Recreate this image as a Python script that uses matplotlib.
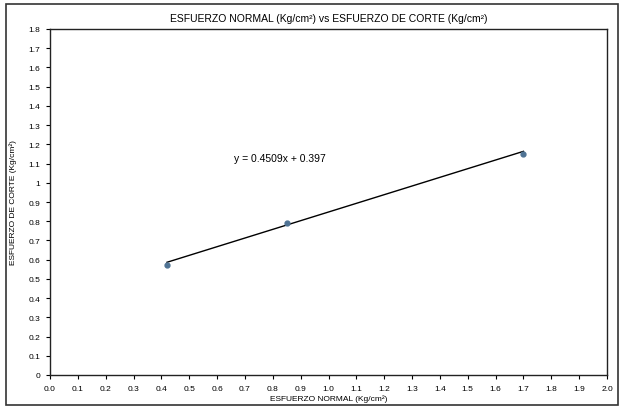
import numpy as np
import matplotlib
matplotlib.use("Agg")
import matplotlib.pyplot as plt
from matplotlib.patches import Rectangle

# -----------------------------
# Data
# -----------------------------
esfuerzo_normal = [0.42, 0.85, 1.70]
esfuerzo_corte = [0.57, 0.79, 1.15]
pendiente = 0.4509
intercepto = 0.397

x_ticks = np.round(np.arange(0.0, 2.01, 0.1), 1)
y_ticks = np.round(np.arange(0.0, 1.81, 0.1), 1)

plt.rcParams["font.family"] = ["Liberation Sans Narrow", "Liberation Sans", "DejaVu Sans"]

fig = plt.figure(figsize=(6.22, 4.10), dpi=100)
ax = fig.add_axes([50 / 622, 1 - 376 / 410, 557 / 622, 346 / 410])

# outer chart frame
fig.patches.append(Rectangle((6 / 622, 4 / 410), 612 / 622, 401 / 410,
                             transform=fig.transFigure, fill=False,
                             edgecolor="#333333", linewidth=1.2))

# trend line over the data range
xs = np.array([min(esfuerzo_normal), max(esfuerzo_normal)])
ax.plot(xs, pendiente * xs + intercepto, color="black", linewidth=1.0, zorder=2)
ax.plot(esfuerzo_normal, esfuerzo_corte, "o", color="#4f7394",
        markersize=3.5, zorder=3)

ax.text(0.66, 1.13, f"y = {pendiente}x + {intercepto}", fontsize=7.5,
        va="center")

ax.set_xlim(0, 2.0)
ax.set_ylim(0, 1.8)
ax.set_xticks(x_ticks)
ax.set_xticklabels([f"{v:.1f}" for v in x_ticks])
ax.set_yticks(y_ticks)
ax.set_yticklabels(["0" if v == 0 else f"{v:g}" for v in y_ticks])
ax.tick_params(labelsize=6, length=3, width=0.8, direction="out", pad=4)

for s in ax.spines.values():
    s.set_linewidth(1.0)
    s.set_color("#222222")

ax.set_title("ESFUERZO NORMAL (Kg/cm²) vs ESFUERZO DE CORTE (Kg/cm²)",
             fontsize=7.5, pad=6)
ax.set_xlabel("ESFUERZO NORMAL (Kg/cm²)", fontsize=6, labelpad=2)
ax.set_ylabel("ESFUERZO DE CORTE (Kg/cm²)", fontsize=6, labelpad=8)

fig.savefig("out.png", dpi=100)
